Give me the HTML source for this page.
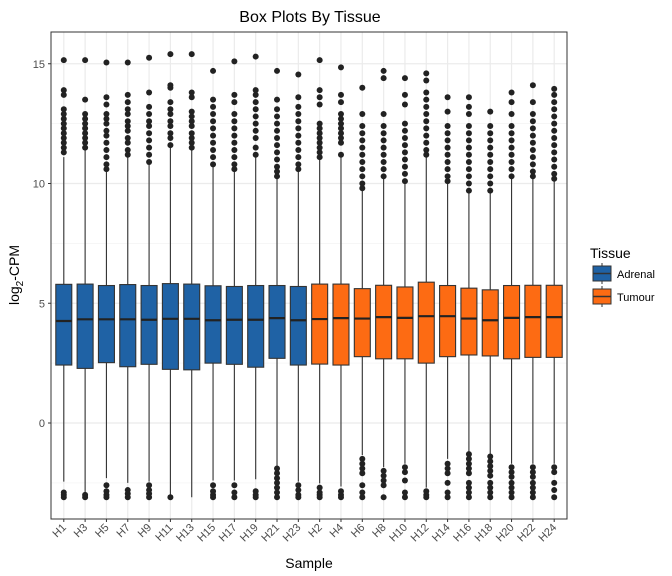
<!DOCTYPE html>
<html><head><meta charset="utf-8"><style>
body{margin:0;background:#fff;font-family:"Liberation Sans",Arial,sans-serif}
svg{display:block}
</style></head><body>
<svg id="chart" width="672" height="576" viewBox="0 0 672 576" xmlns="http://www.w3.org/2000/svg">
<text x="310" y="22" font-size="16" text-anchor="middle" fill="#000">Box Plots By Tissue</text>
<g id="grid"></g>
<g id="boxes"></g>
<rect x="51" y="32" width="516" height="487" fill="none" stroke="#333" stroke-width="1"/>
<g id="axes"></g>
<text x="309" y="568" font-size="14" text-anchor="middle">Sample</text>
<text transform="translate(19,275) rotate(-90)" font-size="14" text-anchor="middle">log<tspan font-size="10" dy="4">2</tspan><tspan dy="-4">-CPM</tspan></text>
<g>
<text x="590" y="258" font-size="14">Tissue</text>
<g>
<line x1="602" y1="263" x2="602" y2="284" stroke="#333"/>
<rect x="593" y="266" width="18" height="15" fill="#1f62a5" stroke="#333"/>
<line x1="593" y1="273.5" x2="611" y2="273.5" stroke="#333" stroke-width="1.5"/>
<text x="617" y="278" font-size="11">Adrenal</text></g>
<g>
<line x1="602" y1="286" x2="602" y2="307" stroke="#333"/>
<rect x="593" y="289" width="18" height="15" fill="#fd6b13" stroke="#333"/>
<line x1="593" y1="296.5" x2="611" y2="296.5" stroke="#333" stroke-width="1.5"/>
<text x="617" y="301" font-size="11">Tumour</text></g>
</g>
</svg>
<script>
const samples=["H1","H3","H5","H7","H9","H11","H13","H15","H17","H19","H21","H23","H2","H4","H6","H8","H10","H12","H14","H16","H18","H20","H22","H24"];
const tissue=["A","A","A","A","A","A","A","A","A","A","A","A","T","T","T","T","T","T","T","T","T","T","T","T"];
const q1=[2.42,2.28,2.52,2.35,2.45,2.24,2.22,2.5,2.45,2.33,2.7,2.42,2.46,2.42,2.77,2.68,2.68,2.5,2.77,2.84,2.8,2.68,2.74,2.74];
const med=[4.26,4.33,4.33,4.33,4.31,4.35,4.35,4.29,4.31,4.31,4.38,4.29,4.34,4.38,4.36,4.42,4.39,4.46,4.46,4.36,4.29,4.39,4.42,4.42];
const q3=[5.79,5.8,5.74,5.78,5.74,5.82,5.8,5.73,5.7,5.74,5.74,5.7,5.8,5.8,5.61,5.75,5.68,5.88,5.74,5.63,5.56,5.74,5.75,5.75];
const wLo=[-2.45,-2.9,-2.3,-2.5,-2.45,-3.1,-3.1,-2.4,-2.4,-2.35,-1.8,-2.45,-2.52,-2.65,-1.34,-1.85,-1.7,-2.7,-1.5,-1.2,-1.3,-1.7,-1.7,-1.7];
const wHi=[11.1,11.4,10.5,11.2,10.9,11.5,11.5,10.8,10.5,11.1,10.2,10.5,11.1,11.1,9.7,10.3,10.1,11.2,10.1,9.65,9.65,10.3,10.3,10.2];
const outHi=[
[15.15,13.9,13.7,13.1,12.9,12.7,12.5,12.3,12.1,11.9,11.7,11.5,11.3],
[15.15,13.5,12.9,12.7,12.5,12.3,12.1,11.9,11.7,11.5],
[15.05,13.6,13.3,12.9,12.7,12.5,12.2,12,11.7,11.4,11.1,10.8,10.6],
[15.05,13.7,13.4,13.1,12.9,12.6,12.4,12.2,11.9,11.7,11.4,11.2],
[15.25,13.8,13.2,12.9,12.6,12.4,12.1,11.8,11.5,11.2,10.9],
[15.4,14.1,14.0,13.4,13.1,12.9,12.6,12.4,12.1,11.9,11.6],
[15.4,13.8,13.6,13.0,12.8,12.6,12.4,12.1,11.9,11.7,11.5],
[14.7,13.5,13.2,12.9,12.6,12.3,12,11.7,11.4,11.1,10.8],
[15.1,13.7,13.4,12.9,12.6,12.3,12,11.7,11.4,11.1,10.8,10.6],
[15.3,13.9,13.7,13.4,13.1,12.8,12.5,12.2,11.9,11.5,11.2],
[14.7,13.5,13.1,12.8,12.5,12.2,11.9,11.6,11.3,11,10.7,10.5,10.3],
[14.55,13.6,13.2,12.9,12.6,12.3,12,11.7,11.4,11.1,10.8,10.6],
[15.15,13.9,13.6,13.3,12.5,12.3,12.1,11.9,11.7,11.5,11.3,11.1],
[14.85,13.7,13.4,12.9,12.7,12.5,12.3,12.1,11.9,11.7,11.2],
[14.0,12.9,12.4,12.1,11.8,11.5,11.2,10.9,10.6,10.3,10,9.8],
[14.7,14.4,12.9,12.4,12.1,11.8,11.5,11.2,10.9,10.6,10.3],
[14.4,13.7,13.3,12.5,12.2,11.9,11.6,11.3,11,10.7,10.4,10.1],
[14.6,14.3,13.8,13.5,13.2,12.9,12.6,12.3,12,11.7,11.4,11.2],
[13.6,13.0,12.4,12.1,11.8,11.5,11.2,10.9,10.6,10.3,10.1],
[13.6,13.2,12.9,12.4,12.1,11.8,11.5,11.2,10.9,10.6,10.3,10,9.7],
[13.0,12.4,12.1,11.8,11.5,11.2,10.9,10.6,10.3,10,9.7],
[13.8,13.4,12.9,12.4,12.1,11.8,11.5,11.2,10.9,10.6,10.3],
[14.1,13.4,12.9,12.6,12.3,12,11.7,11.4,11.1,10.8,10.5,10.3],
[13.95,13.7,13.4,13.1,12.8,12.5,12.2,11.9,11.6,11.3,11,10.7,10.4,10.2]];
const outLo=[
[-2.9,-3.0,-3.1],[-3.0,-3.1],[-2.6,-2.85,-3.0,-3.1],[-2.8,-2.95,-3.1],[-2.6,-2.8,-2.95,-3.1],[-3.1],[],[-2.6,-2.85,-3.0,-3.1],[-2.6,-2.9,-3.1],[-2.85,-3.0,-3.1],[-1.9,-2.1,-2.3,-2.5,-2.7,-2.9,-3.1],[-2.6,-2.8,-3.0,-3.1],
[-2.7,-2.9,-3.0,-3.1],[-2.85,-3.0,-3.1],[-1.5,-1.7,-1.9,-2.1,-2.6,-2.9,-3.1],[-2.0,-2.2,-2.4,-2.6,-3.1],[-1.85,-2.05,-2.4,-2.9,-3.1],[-2.85,-3.0,-3.1],[-1.7,-1.9,-2.1,-2.5,-2.9,-3.1],[-1.3,-1.5,-1.7,-1.9,-2.1,-2.5,-2.7,-2.9,-3.1],[-1.4,-1.6,-1.8,-2.0,-2.2,-2.5,-2.7,-2.9,-3.1],[-1.85,-2.05,-2.25,-2.5,-2.7,-2.9,-3.1],[-1.85,-2.05,-2.25,-2.5,-2.7,-2.9,-3.1],[-1.85,-2.05,-2.5,-2.8,-3.1]];
const yTicks=[0,5,10,15];
const yMinor=[-2.5,2.5,7.5,12.5];
const colors={A:"#1f62a5",T:"#fd6b13"};

const NS="http://www.w3.org/2000/svg";
const PL=51,PR=567,PT=32,PB=519;
const step=(PR-PL)/(samples.length-1+1.2);
function xs(i){return PL+(0.6+i)*step;}
function ys(v){return 423-23.95*v;}
function mk(t,a,p){const e=document.createElementNS(NS,t);for(const k in a)e.setAttribute(k,a[k]);p.appendChild(e);return e;}
const grid=document.getElementById('grid'),boxes=document.getElementById('boxes'),axes=document.getElementById('axes');
yMinor.forEach(v=>{const l=mk('line',{x1:PL,x2:PR,y1:ys(v),y2:ys(v),stroke:'#f4f4f4','stroke-width':0.8},grid);

});
yTicks.forEach(v=>{const l=mk('line',{x1:PL,x2:PR,y1:ys(v),y2:ys(v),stroke:'#ebebeb','stroke-width':1.2},grid);


mk('line',{x1:PL-3,x2:PL,y1:ys(v),y2:ys(v),stroke:'#333'},axes);
const t=mk('text',{x:PL-6,y:ys(v)+4,'font-size':11,'text-anchor':'end',fill:'#4d4d4d'},axes);t.textContent=v;

});
samples.forEach((s,i)=>{
const x=xs(i);
const g=mk('line',{x1:x,x2:x,y1:PT,y2:PB,stroke:'#ebebeb','stroke-width':1.2},grid);


const grp=mk('g',{},boxes);


mk('line',{x1:x,x2:x,y1:ys(wHi[i]),y2:ys(wLo[i]),stroke:'#333','stroke-width':1.1},grp);
const w=step*0.75;
mk('rect',{x:x-w/2,y:ys(q3[i]),width:w,height:ys(q1[i])-ys(q3[i]),fill:colors[tissue[i]],stroke:'#333','stroke-width':1.1},grp);
mk('line',{x1:x-w/2,x2:x+w/2,y1:ys(med[i]),y2:ys(med[i]),stroke:'#222','stroke-width':2.2},grp);
outHi[i].concat(outLo[i]).forEach(v=>mk('circle',{cx:x,cy:ys(v),r:3,fill:'#222'},grp));
mk('line',{x1:x,x2:x,y1:PB,y2:PB+3,stroke:'#333'},axes);
const t=mk('text',{transform:`translate(${x+3},${PB+9}) rotate(-45)`,'font-size':11,'text-anchor':'end',fill:'#4d4d4d'},axes);t.textContent=s;


});
</script>
</body></html>
